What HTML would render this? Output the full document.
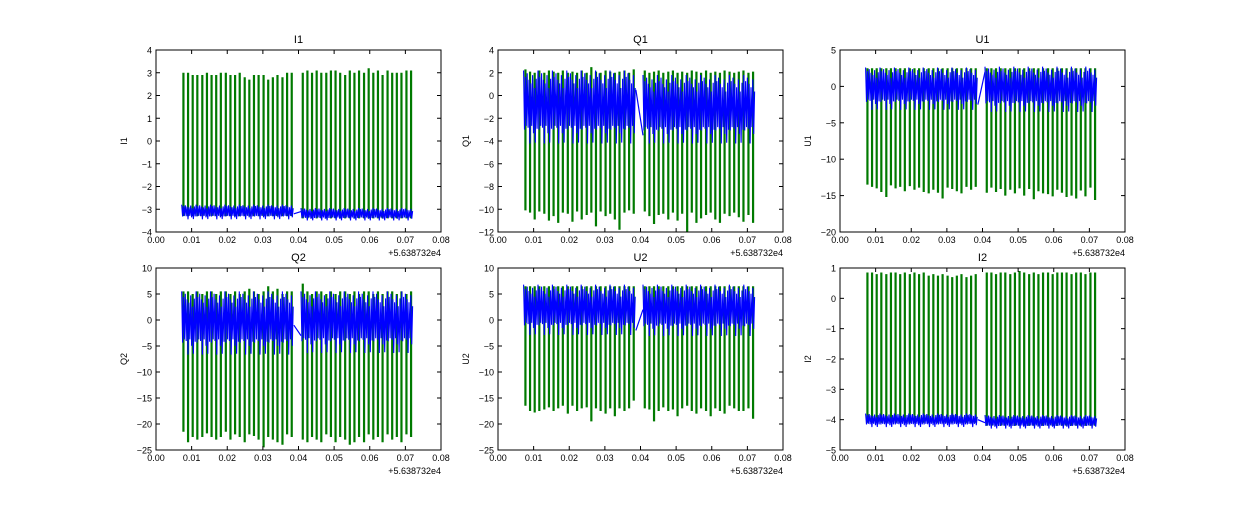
<!DOCTYPE html>
<html><head><meta charset="utf-8"><style>
body{margin:0;background:#fff;}
svg text{font-family:"Liberation Sans",sans-serif;}
</style></head><body>
<svg id="fig" width="1250" height="500" xmlns="http://www.w3.org/2000/svg"></svg>
<script>
const spikeTimes1 = [0.0077,0.0090,0.0103,0.0116,0.0130,0.0143,0.0156,0.0169,0.0182,0.0196,0.0209,0.0222,0.0235,0.0249,0.0262,0.0275,0.0288,0.0302,0.0315,0.0328,0.0341,0.0355,0.0368,0.0381];
const spikeTimes2 = [0.0412,0.0425,0.0438,0.0451,0.0464,0.0478,0.0491,0.0504,0.0517,0.0531,0.0544,0.0557,0.0570,0.0584,0.0597,0.0610,0.0623,0.0636,0.0650,0.0663,0.0676,0.0689,0.0703,0.0716];
const titles = ["I1","Q1","U1","Q2","U2","I2"];
const yTicks = [[-4,-3,-2,-1,0,1,2,3,4],[-12,-10,-8,-6,-4,-2,0,2,4],[-20,-15,-10,-5,0,5],[-25,-20,-15,-10,-5,0,5,10],[-25,-20,-15,-10,-5,0,5,10],[-5,-4,-3,-2,-1,0,1]];
const xTicks = [0.00,0.01,0.02,0.03,0.04,0.05,0.06,0.07,0.08];
const spikeBase = [-3.2,-2,0,-2,0,-4];
const upPeaks = [
 [3.0,3.0,2.9,2.9,2.9,3.0,2.9,2.9,3.0,3.0,2.9,2.9,3.0,2.8,2.7,2.9,2.9,2.9,2.7,2.8,2.9,2.8,3.0,3.0, 3.0,3.1,3.0,3.1,3.0,3.0,3.1,3.1,3.0,2.9,3.1,3.0,3.1,3.0,3.2,3.0,3.1,2.9,3.1,3.0,3.0,3.0,3.1,3.1],
 [2.3,2.1,2.0,2.2,2.0,2.2,2.1,2.0,2.2,2.0,2.1,2.0,2.2,2.0,2.5,2.1,2.0,2.2,2.1,2.0,2.1,2.2,2.0,2.3, 2.2,2.0,2.1,2.2,2.0,2.1,2.2,2.0,2.1,2.0,2.2,2.1,2.0,2.2,2.0,2.1,2.0,2.2,2.1,2.0,2.1,2.2,2.0,2.1],
 [2.5,2.5,2.5,2.5,2.5,2.5,2.5,2.5,2.5,2.5,2.5,2.5,2.5,2.5,2.5,2.5,2.5,2.5,2.5,2.5,2.5,2.5,2.5,2.5, 2.5,2.5,2.5,2.5,2.5,2.5,2.5,2.5,2.5,2.5,2.5,2.5,2.5,2.5,2.5,2.5,2.5,2.5,2.5,2.5,2.5,2.5,2.5,2.5],
 [5.5,5.5,5.0,5.5,5.0,5.5,5.5,5.0,5.5,5.5,5.0,5.5,5.0,5.5,6.0,5.5,5.0,5.5,6.5,5.5,6.0,5.0,5.5,5.5, 7.0,5.5,5.0,5.5,5.5,5.0,5.5,5.0,5.5,5.5,5.0,5.5,5.0,5.5,5.5,5.0,5.5,5.0,5.5,5.5,5.0,5.5,5.0,5.5],
 [6.5,6.5,6.5,6.5,6.5,6.5,6.5,6.5,6.5,6.5,6.5,6.5,6.5,6.5,6.5,6.5,6.5,6.5,6.5,6.5,6.5,6.5,6.5,6.5, 6.5,6.5,6.5,6.5,6.5,6.5,6.5,6.5,6.5,6.5,6.5,6.5,6.5,6.5,6.5,6.5,6.5,6.5,6.5,6.5,6.5,6.5,6.5,6.5],
 [0.85,0.85,0.8,0.85,0.8,0.85,0.85,0.8,0.85,0.8,0.85,0.8,0.85,0.75,0.8,0.75,0.8,0.75,0.7,0.75,0.8,0.7,0.75,0.8, 0.85,0.85,0.8,0.85,0.85,0.8,0.85,0.9,0.85,0.8,0.85,0.8,0.85,0.85,0.8,0.85,0.85,0.85,0.8,0.85,0.85,0.8,0.85,0.85]
];
const downPeaks = [
 [-3.3,-3.3,-3.3,-3.3,-3.3,-3.3,-3.3,-3.3,-3.3,-3.3,-3.3,-3.3,-3.3,-3.3,-3.3,-3.3,-3.3,-3.3,-3.3,-3.3,-3.3,-3.3,-3.3,-3.3, -3.4,-3.4,-3.4,-3.4,-3.4,-3.4,-3.4,-3.4,-3.4,-3.4,-3.4,-3.4,-3.4,-3.4,-3.4,-3.4,-3.4,-3.4,-3.4,-3.4,-3.4,-3.4,-3.4,-3.4],
 [-10.1,-10.3,-10.9,-10.2,-10.4,-11.0,-10.6,-11.2,-10.3,-10.4,-11.1,-10.2,-10.9,-10.5,-10.3,-11.5,-10.2,-10.6,-10.4,-10.9,-11.8,-10.3,-10.1,-10.4, -10.2,-10.6,-11.3,-10.5,-10.4,-10.9,-10.3,-11.0,-10.4,-12.0,-10.3,-11.2,-10.8,-10.5,-10.3,-10.9,-11.2,-10.4,-10.6,-10.3,-10.7,-11.1,-10.5,-11.2],
 [-13.5,-13.8,-14.0,-14.5,-15.2,-13.6,-14.0,-13.8,-14.4,-13.7,-14.2,-13.9,-14.5,-14.7,-14.2,-14.6,-15.4,-13.9,-14.1,-14.4,-14.7,-13.8,-14.2,-13.8, -14.6,-13.9,-14.5,-14.1,-15.0,-14.2,-14.7,-14.0,-15.0,-14.1,-15.5,-14.4,-14.7,-14.8,-15.1,-14.2,-14.6,-15.2,-15.0,-15.4,-14.3,-15.1,-13.9,-15.6],
 [-21.5,-23.5,-22.5,-23.0,-22.5,-21.8,-22.5,-23.0,-22.5,-21.5,-23.0,-22.0,-22.5,-23.5,-22.0,-22.3,-23.0,-24.5,-22.5,-23.0,-23.5,-24.0,-22.0,-22.5, -23.0,-23.5,-22.5,-23.0,-23.5,-22.0,-22.5,-23.5,-22.5,-23.0,-24.0,-23.5,-22.5,-23.5,-22.0,-23.0,-22.5,-23.5,-22.0,-23.0,-22.5,-23.5,-22.0,-22.5],
 [-16.5,-17.5,-17.8,-17.5,-17.2,-16.8,-17.5,-17.0,-16.5,-18.0,-16.5,-17.5,-17.0,-16.8,-19.5,-17.0,-17.5,-18.0,-17.0,-18.5,-17.0,-17.5,-17.0,-15.5, -17.0,-17.2,-19.5,-17.5,-16.8,-17.5,-17.2,-18.5,-17.0,-16.5,-17.5,-18.0,-17.0,-17.5,-18.5,-17.0,-17.5,-18.0,-16.5,-17.0,-17.5,-17.5,-17.0,-19.0],
 [-4.1,-4.1,-4.1,-4.1,-4.1,-4.1,-4.1,-4.1,-4.1,-4.1,-4.1,-4.1,-4.1,-4.1,-4.1,-4.1,-4.1,-4.1,-4.1,-4.1,-4.1,-4.1,-4.1,-4.1, -4.2,-4.2,-4.2,-4.2,-4.2,-4.2,-4.2,-4.2,-4.2,-4.2,-4.2,-4.2,-4.2,-4.2,-4.2,-4.2,-4.2,-4.2,-4.2,-4.2,-4.2,-4.2,-4.2,-4.2]
];
const blueLow1 = [-3.45,-4.3,-3.3,-6.8,-3.0,-4.25];
const blueHigh1 = [-2.8,2.2,2.6,5.5,6.8,-3.8];
const blueLow2 = [-3.5,-4.3,-3.6,-6.5,-3.2,-4.3];
const blueHigh2 = [-2.95,1.8,2.7,5.5,6.8,-3.85];
const gapFrom = [-3.2,0.5,-2.5,-1.0,-2.0,-4.0];
const gapTo = [-3.1,-3.5,2.0,-3.0,2.0,-4.1];

const svg = document.getElementById('fig');
const NS = 'http://www.w3.org/2000/svg';
function mk(tag, attrs, parent){const e=document.createElementNS(NS,tag);for(const k in attrs)e.setAttribute(k,attrs[k]);(parent||svg).appendChild(e);return e;}
const cols=[156,498,840], rows=[50,268], W=285, H=182;
const wig=[0,0.8,0.35,1,0.15,0.9,0.5,0.05,0.7,1,0.25,0.6,0.95,0.1,0.45,0.85];
for(let p=0;p<6;p++){
  const x0=cols[p%3], y0=rows[Math.floor(p/3)];
  const ticks=yTicks[p], ymin=ticks[0], ymax=ticks[ticks.length-1];
  const X=v=>x0+v/0.08*W, Y=v=>y0+H-(v-ymin)/(ymax-ymin)*H;
  const g=mk('g',{});
  
  
  const clipId='c'+p;
  const cp=mk('clipPath',{id:clipId},g); mk('rect',{x:x0,y:y0,width:W,height:H},cp);
  const plot=mk('g',{'clip-path':'url(#'+clipId+')'},g);
  const segs=[[spikeTimes1[0]-0.0005,spikeTimes1[23]+0.0006,blueLow1[p],blueHigh1[p]],[spikeTimes2[0]-0.0005,spikeTimes2[23]+0.0006,blueLow2[p],blueHigh2[p]]];
  const times=spikeTimes1.concat(spikeTimes2);
  times.forEach((t,i)=>{
    const l=mk('line',{x1:X(t),x2:X(t),y1:Y(downPeaks[p][i]),y2:Y(Math.max(upPeaks[p][i],spikeBase[p])),stroke:'#007a00','stroke-width':2.2},plot);
    
    
  });
  segs.forEach((s,si)=>{
    let pts=[];const px0=X(s[0]),px1=X(s[1]);let k=0;
    for(let px=px0;px<=px1;px+=0.9,k++){
      const f=wig[k%16], lo=s[2], hi=s[3];
      const v=(k%2==0)? hi-(hi-lo)*0.25*f : lo+(hi-lo)*0.25*f;
      pts.push(px.toFixed(1)+','+Y(v).toFixed(1));
    }
    const pl=mk('polyline',{points:pts.join(' '),fill:'none',stroke:'#0000ff','stroke-width':1.1},plot);
    
    
  });
  const gl=mk('line',{x1:X(segs[0][1]),y1:Y(gapFrom[p]),x2:X(segs[1][0]),y2:Y(gapTo[p]),stroke:'#0000ff','stroke-width':1.2},plot);
  
  
  const fr=mk('rect',{x:x0,y:y0,width:W,height:H,fill:'none',stroke:'#000','stroke-width':1},g);
  
  
  ticks.forEach(v=>{
    const y=Y(v);
    mk('line',{x1:x0,x2:x0+4,y1:y,y2:y,stroke:'#000'},g);mk('line',{x1:x0+W-4,x2:x0+W,y1:y,y2:y,stroke:'#000'},g);
    const t=mk('text',{x:x0-4,y:y+3.5,'font-size':9,'text-anchor':'end'},g);t.textContent=(v<0?'\u2212'+(-v):v);
    
    
  });
  xTicks.forEach(v=>{
    const x=X(v);
    mk('line',{x1:x,x2:x,y1:y0+H,y2:y0+H-4,stroke:'#000'},g);mk('line',{x1:x,x2:x,y1:y0,y2:y0+4,stroke:'#000'},g);
    const t=mk('text',{x:x,y:y0+H+11,'font-size':9,'text-anchor':'middle'},g);t.textContent=v.toFixed(2);
    
    
  });
  const off=mk('text',{x:x0+W,y:y0+H+24,'font-size':9,'text-anchor':'end'},g);off.textContent='+5.638732e4';
  
  
  const ti=mk('text',{x:x0+W/2,y:y0-7,'font-size':11,'text-anchor':'middle'},g);ti.textContent=titles[p];
  
  
  const yl=mk('text',{x:0,y:0,'font-size':9,'text-anchor':'middle',transform:'translate('+(x0-29)+','+(y0+H/2)+') rotate(-90)'},g);yl.textContent=titles[p];
  
  
}
</script>
</body></html>
